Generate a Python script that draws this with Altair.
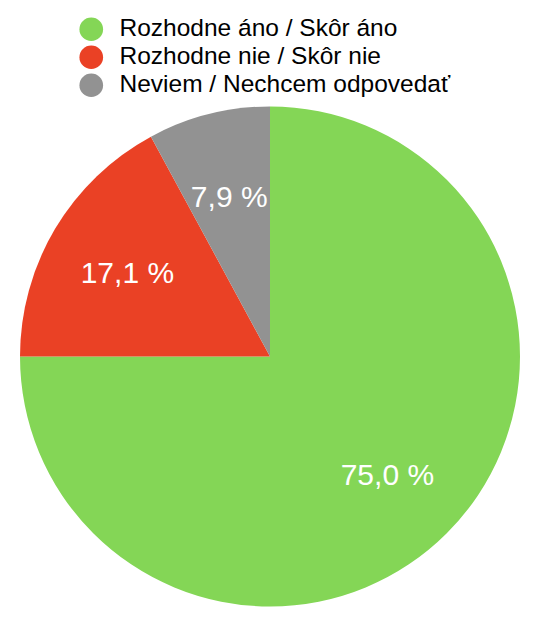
import altair as alt
import pandas as pd

categories = ["Rozhodne áno / Skôr áno", "Rozhodne nie / Skôr nie", "Neviem / Nechcem odpovedať"]
values = [75.0, 17.1, 7.9]
labels = ["75,0 %", "17,1 %", "7,9 %"]
colors = ["#84D656", "#EA4125", "#929292"]

df = pd.DataFrame({"kat": categories, "val": values, "lab": labels, "idx": [0, 1, 2]})

FONT = "Liberation Sans"
CX, CY, R = 262, 348.5, 250

base = alt.Chart(df).encode(
    theta=alt.Theta("val:Q", stack=True),
    order=alt.Order("idx:Q"),
)

arcs = base.mark_arc(outerRadius=R, innerRadius=0).encode(
    x=alt.value(CX),
    y=alt.value(CY),
    color=alt.Color(
        "kat:N",
        scale=alt.Scale(domain=categories, range=colors),
        legend=alt.Legend(
            title=None,
            orient="none",
            legendX=71,
            legendY=9,
            symbolType="circle",
            symbolSize=560,
            symbolStrokeWidth=0,
            labelFont=FONT,
            labelFontSize=24.5,
            labelColor="#000000",
            labelOffset=16,
            rowPadding=2,
            labelLimit=500,
        ),
    ),
)

texts = base.mark_text(
    radius=166, font=FONT, fontSize=30, color="white", align="center", baseline="middle", dy=2
).encode(
    x=alt.value(CX),
    y=alt.value(CY),
    text="lab:N",
)

chart = (
    alt.layer(arcs, texts)
    .properties(width=529, height=620, autosize=alt.AutoSizeParams(type="none"), padding=0)
    .configure_view(stroke=None)
)

chart.save("out.html", embed_options={"renderer": "svg", "actions": False})
